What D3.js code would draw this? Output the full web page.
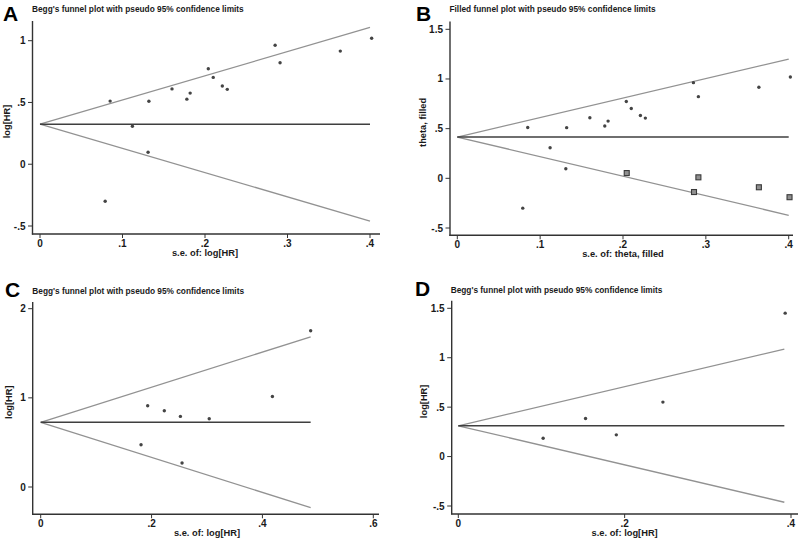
<!DOCTYPE html>
<html>
<head>
<meta charset="utf-8">
<script src="https://cdn.jsdelivr.net/npm/d3@7"></script>
<style>
  html, body { margin: 0; padding: 0; background: #fff; }
  svg { display: block; }
  text { font-family: "Liberation Sans", Arial, sans-serif; font-weight: bold; fill: #1a1a1a; }
</style>
</head>
<body>
<svg id="chart" width="802" height="540"></svg>
<script>
// ---------- Data ----------
// Panel A: Begg's funnel plot (log[HR] vs s.e.)
const aSE   = [0.085, 0.112, 0.132, 0.160, 0.178, 0.182, 0.204, 0.210, 0.221, 0.227, 0.285, 0.291, 0.364, 0.402, 0.131, 0.079];
const aLogHR= [0.511, 0.308, 0.510, 0.610, 0.527, 0.576, 0.773, 0.703, 0.633, 0.606, 0.963, 0.822, 0.916, 1.020, 0.097, -0.300];
const aPooled = 0.324;
const aSEmax  = 0.40;
const aUpperEnd = 1.108;
const aLowerEnd = -0.460;

// Panel B: Filled funnel plot (theta, filled)
const bSE    = [0.085, 0.112, 0.132, 0.160, 0.178, 0.182, 0.204, 0.210, 0.221, 0.227, 0.285, 0.291, 0.364, 0.402, 0.131, 0.079];
const bTheta = [0.511, 0.308, 0.510, 0.610, 0.527, 0.576, 0.773, 0.703, 0.633, 0.606, 0.963, 0.822, 0.916, 1.020, 0.097, -0.300];
const bFilledSE    = [0.2045, 0.2857, 0.291, 0.364, 0.401];
const bFilledTheta = [0.053, -0.138, 0.010, -0.090, -0.190];
const bPooled = 0.415;
const bSEmax  = 0.40;
const bUpperEnd = 1.200;
const bLowerEnd = -0.372;

// Panel C
const cSE    = [0.487, 0.418, 0.193, 0.223, 0.252, 0.304, 0.181, 0.255];
const cLogHR = [1.752, 1.015, 0.911, 0.855, 0.792, 0.766, 0.474, 0.269];
const cPooled = 0.725;
const cSEmax  = 0.487;
const cUpperEnd = 1.685;
const cLowerEnd = -0.232;

// Panel D
const dSE    = [0.393, 0.246, 0.153, 0.190, 0.102];
const dLogHR = [1.451, 0.551, 0.385, 0.220, 0.186];
const dPooled = 0.311;
const dSEmax  = 0.392;
const dUpperEnd = 1.087;
const dLowerEnd = -0.462;

// Tick labels
const xTicksA = [0, 0.1, 0.2, 0.3, 0.4];
const yTicksA = [-0.5, 0, 0.5, 1];
const xTicksB = [0, 0.1, 0.2, 0.3, 0.4];
const yTicksB = [-0.5, 0, 0.5, 1, 1.5];
const xTicksC = [0, 0.2, 0.4, 0.6];
const yTicksC = [0, 1, 2];
const xTicksD = [0, 0.2, 0.4];
const yTicksD = [-0.5, 0, 0.5, 1, 1.5];

const titleBegg   = "Begg's funnel plot with pseudo 95% confidence limits";
const titleFilled = "Filled funnel plot with pseudo 95% confidence limits";

// ---------- Drawing ----------
const svg = d3.select("#chart");

function fmt(v) {
  if (v === 0) return "0";
  let s = String(v);
  s = s.replace(/^0\./, ".").replace(/^-0\./, "-.");
  return s;
}

function zip(a, b) { return a.map((v, i) => [v, b[i]]); }

function panel(cfg) {
  const g = svg.append("g");
  const x = d3.scaleLinear().domain(cfg.xDom).range(cfg.xRange);
  const y = d3.scaleLinear().domain(cfg.yDom).range(cfg.yRange);

  // panel letter
  g.append("text").attr("x", cfg.letterX).attr("y", cfg.letterY)
    .style("font-size", "21px").style("fill", "#000").text(cfg.letter);
  // title
  g.append("text").attr("x", cfg.titleX).attr("y", cfg.titleY)
    .style("font-size", "8.3px").text(cfg.title);

  // funnel lines
  const line = d3.line().x(d => x(d[0])).y(d => y(d[1]));
  const upper = [[0, cfg.pooled], [cfg.seMax, cfg.upperEnd]];
  const lower = [[0, cfg.pooled], [cfg.seMax, cfg.lowerEnd]];
  const pooled = [[0, cfg.pooled], [cfg.seMax, cfg.pooled]];
  g.append("path").attr("d", line(upper)).attr("fill", "none").attr("stroke", "#929292").attr("stroke-width", 1.3);
  g.append("path").attr("d", line(lower)).attr("fill", "none").attr("stroke", "#929292").attr("stroke-width", 1.3);
  g.append("path").attr("d", line(pooled)).attr("fill", "none").attr("stroke", "#3f3f3f").attr("stroke-width", 1.5);

  // points
  g.selectAll("circle.pt").data(zip(cfg.se, cfg.val)).enter().append("circle")
    .attr("class", "pt").attr("cx", d => x(d[0])).attr("cy", d => y(d[1]))
    .attr("r", 1.7).attr("fill", "#444");

  if (cfg.filledSE) {
    g.selectAll("rect.fill").data(zip(cfg.filledSE, cfg.filledVal)).enter().append("rect")
      .attr("class", "fill")
      .attr("x", d => x(d[0]) - 2.5).attr("y", d => y(d[1]) - 2.5)
      .attr("width", 5).attr("height", 5)
      .attr("fill", "#909090").attr("stroke", "#3a3a3a").attr("stroke-width", 1.1);
  }

  // axes lines
  g.append("line").attr("x1", cfg.axisX).attr("x2", cfg.axisX)
    .attr("y1", cfg.yTop).attr("y2", cfg.axisY + 0.6)
    .attr("stroke", "#333").attr("stroke-width", 1.4);
  g.append("line").attr("x1", cfg.axisX - 0.6).attr("x2", cfg.xRight)
    .attr("y1", cfg.axisY).attr("y2", cfg.axisY)
    .attr("stroke", "#333").attr("stroke-width", 1.4);

  // y ticks
  const yt = g.selectAll("g.yt").data(cfg.yTicks).enter().append("g").attr("class", "yt");
  yt.append("line").attr("x1", cfg.axisX - 4.5).attr("x2", cfg.axisX)
    .attr("y1", d => y(d)).attr("y2", d => y(d)).attr("stroke", "#333").attr("stroke-width", 1);
  yt.append("text").attr("x", cfg.axisX - 7).attr("y", d => y(d) + 3.5)
    .attr("text-anchor", "end").style("font-size", "10px").text(fmt);

  // x ticks
  const xt = g.selectAll("g.xt").data(cfg.xTicks).enter().append("g").attr("class", "xt");
  xt.append("line").attr("x1", d => x(d)).attr("x2", d => x(d))
    .attr("y1", cfg.axisY).attr("y2", cfg.axisY + 4).attr("stroke", "#333").attr("stroke-width", 1);
  xt.append("text").attr("x", d => x(d)).attr("y", cfg.axisY + 12.5)
    .attr("text-anchor", "middle").style("font-size", "10px").text(fmt);

  // axis titles
  g.append("text").attr("x", (cfg.xRange[0] + cfg.xRange[1]) / 2 + cfg.xTitleDx).attr("y", cfg.axisY + 21.5)
    .attr("text-anchor", "middle").style("font-size", "9.3px").text(cfg.xTitle);
  const ymid = (cfg.yTop + cfg.axisY) / 2 - 6;
  g.append("text").attr("transform", `translate(${cfg.yTitleX},${ymid}) rotate(-90)`)
    .attr("text-anchor", "middle").style("font-size", "9.3px").text(cfg.yTitle);
}

panel({
  letter: "A", letterX: 3, letterY: 20.5, title: titleBegg, titleX: 32, titleY: 12,
  xDom: [0, 0.4], xRange: [40, 370], yDom: [-0.5, 1], yRange: [226, 40.7],
  axisX: 32.5, axisY: 234, yTop: 21, xRight: 380,
  se: aSE, val: aLogHR, pooled: aPooled, seMax: aSEmax, upperEnd: aUpperEnd, lowerEnd: aLowerEnd,
  xTicks: xTicksA, yTicks: yTicksA, xTitle: "s.e. of: log[HR]", xTitleDx: 0, yTitle: "log[HR]", yTitleX: 10
});

panel({
  letter: "B", letterX: 416, letterY: 20.5, title: titleFilled, titleX: 449.5, titleY: 12,
  xDom: [0, 0.4], xRange: [457.3, 788.7], yDom: [-0.5, 1.5], yRange: [228, 29.3],
  axisX: 450, axisY: 235.3, yTop: 21.5, xRight: 793,
  se: bSE, val: bTheta, filledSE: bFilledSE, filledVal: bFilledTheta,
  pooled: bPooled, seMax: bSEmax, upperEnd: bUpperEnd, lowerEnd: bLowerEnd,
  xTicks: xTicksB, yTicks: yTicksB, xTitle: "s.e. of: theta, filled", xTitleDx: 0, yTitle: "theta, filled", yTitleX: 425.5
});

panel({
  letter: "C", letterX: 5, letterY: 296.5, title: titleBegg, titleX: 32.3, titleY: 294,
  xDom: [0, 0.6], xRange: [40.7, 373.3], yDom: [0, 2], yRange: [487, 308.7],
  axisX: 32.7, axisY: 514.3, yTop: 302, xRight: 379,
  se: cSE, val: cLogHR, pooled: cPooled, seMax: cSEmax, upperEnd: cUpperEnd, lowerEnd: cLowerEnd,
  xTicks: xTicksC, yTicks: yTicksC, xTitle: "s.e. of: log[HR]", xTitleDx: 0, yTitle: "log[HR]", yTitleX: 11.5
});

panel({
  letter: "D", letterX: 415, letterY: 295.5, title: titleBegg, titleX: 450.7, titleY: 293,
  xDom: [0, 0.4], xRange: [458.3, 791], yDom: [-0.5, 1.5], yRange: [506, 308.3],
  axisX: 451.7, axisY: 514, yTop: 300.7, xRight: 798,
  se: dSE, val: dLogHR, pooled: dPooled, seMax: dSEmax, upperEnd: dUpperEnd, lowerEnd: dLowerEnd,
  xTicks: xTicksD, yTicks: yTicksD, xTitle: "s.e. of: log[HR]", xTitleDx: 0, yTitle: "log[HR]", yTitleX: 427
});
</script>
</body>
</html>
